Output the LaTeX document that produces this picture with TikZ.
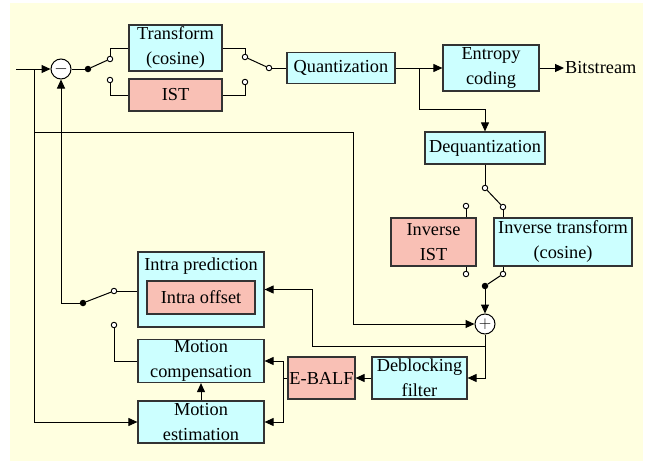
\documentclass[tikz,border=0pt]{standalone}
\usepackage{fontspec}
\setmainfont{Liberation Serif}
\usetikzlibrary{arrows.meta}
\definecolor{bgyel}{HTML}{FFFFE0}
\definecolor{cyanbox}{HTML}{CCFFFF}
\definecolor{pinkbox}{HTML}{F9C0B5}
\tikzset{
  blk/.style={draw=black!80,line width=1.2pt,fill=cyanbox,inner sep=0pt,align=center,font=\fontsize{18.3}{25}\selectfont},
  pblk/.style={blk,fill=pinkbox},
  port/.style={circle,draw,fill=white,line width=0.9pt,inner sep=0pt,minimum size=5.5pt},
  jdot/.style={circle,fill,inner sep=0pt,minimum size=6.5pt},
  sumnode/.style={circle,draw,fill=white,line width=1pt,inner sep=0pt,minimum size=20pt,font=\fontsize{17}{17}\selectfont},
  wire/.style={line width=1pt},
  arr/.style={wire,-{Triangle[length=9pt,width=8pt]}}
}
\begin{document}
\begin{tikzpicture}[x=1pt,y=-1pt]
\useasboundingbox (0,0) rectangle (649,461);
\fill[bgyel] (10,3) rectangle (643,461);
% blocks
\node[blk,minimum width=93pt,minimum height=46pt] (trans) at (175.5,48) {Transform\\(cosine)};
\node[pblk,minimum width=93pt,minimum height=32pt] (ist) at (175.5,95) {IST};
\node[blk,minimum width=108pt,minimum height=31pt] (quant) at (341,68) {Quantization};
\node[blk,minimum width=96pt,minimum height=46pt] (entropy) at (491,68) {Entropy\\coding};
\node[anchor=west,inner sep=1pt,font=\fontsize{18.3}{25}\selectfont] (bits) at (564,68) {Bitstream};
\node[blk,minimum width=120pt,minimum height=32pt] (dequant) at (485,148) {Dequantization};
\node[pblk,minimum width=85pt,minimum height=48pt] (invist) at (433.5,242) {Inverse\\IST};
\node[blk,minimum width=138pt,minimum height=48pt] (invtr) at (563,242) {Inverse transform\\(cosine)};
\node[blk,minimum width=126pt,minimum height=75pt] (intra) at (201,289.5) {};
\node[font=\fontsize{18.3}{25}\selectfont] (intratxt) at (201,266) {Intra prediction};
\node[pblk,minimum width=108pt,minimum height=33pt] (offset) at (201,297.5) {Intra offset};
\node[blk,minimum width=126pt,minimum height=43pt] (mc) at (201,361) {Motion\\compensation};
\node[blk,minimum width=126pt,minimum height=42pt] (me) at (201,422) {Motion\\estimation};
\node[pblk,minimum width=67pt,minimum height=42pt] (balf) at (321.5,378) {E-BALF};
\node[blk,minimum width=95pt,minimum height=42pt] (deblock) at (419.5,378) {Deblocking\\filter};
% adders
\node[sumnode] (minus) at (61,69) {$-$};
\node[sumnode] (plus) at (485,324) {$+$};
% switches
\node[jdot] (sw1) at (88,69) {};
\node[port] (tin) at (110,59) {};
\node[port] (iin) at (110,80) {};
\node[port] (tout) at (245,57) {};
\node[port] (iout) at (245,82) {};
\node[port] (qin) at (269,68) {};
\node[port] (dqout) at (485,188) {};
\node[port] (itin) at (503,207) {};
\node[port] (iiin) at (466,206) {};
\node[port] (iiout) at (466,274) {};
\node[port] (itout) at (503,274) {};
\node[jdot] (sw3) at (485,286) {};
\node[jdot] (sw2) at (83,303) {};
\node[port] (ipout) at (114,291) {};
\node[port] (mcout) at (114,325) {};
% junctions
\coordinate (in) at (16,69);
\coordinate (j1) at (34,69);
\coordinate (j2) at (34,132);
\coordinate (j3) at (353,132);
\coordinate (j4) at (419,68);
\coordinate (j5) at (419,109);
\coordinate (j6) at (485,346);
\coordinate (j7) at (312,346);
\coordinate (j8) at (283,378);
% forward path
\draw[arr] (in) -- (minus);
\draw[wire] (minus) -- (sw1);
\draw[wire] (sw1) -- (tin);
\draw[wire] (tin) |- (trans.west);
\draw[wire] (iin) |- (ist.west);
\draw[wire] (trans.east) -| (tout);
\draw[wire] (ist.east) -| (iout);
\draw[wire] (tout) -- (qin);
\draw[wire] (qin) -- (quant.west);
\draw[arr] (quant.east) -- (entropy.west);
\draw[arr] (entropy.east) -- (bits.west);
\draw[arr] (j4) -- (j5) -| (dequant.north);
% reconstruction
\draw[wire] (dequant) -- (dqout);
\draw[wire] (dqout) -- (itin);
\draw[wire] (itin) -- (itin |- invtr.north);
\draw[wire] (iiin) -- (iiin |- invist.north);
\draw[wire] (iiout) -- (iiout |- invist.south);
\draw[wire] (itout) -- (itout |- invtr.south);
\draw[wire] (sw3) -- (itout);
\draw[arr] (sw3) -- (plus);
\draw[arr] (j2) -- (j3) |- (plus);
\draw[wire] (plus) -- (j6);
\draw[arr] (j6) -- (j7) |- (intra.east);
\draw[arr] (j6) |- (deblock.east);
\draw[arr] (deblock) -- (balf);
\draw[wire] (balf) -- (j8);
\draw[arr] (j8) |- (mc.east);
\draw[arr] (j8) |- (me.east);
\draw[arr] (me) -- (mc);
% prediction
\draw[arr] (j1) |- (me.west);
\draw[wire] (ipout) -- (ipout -| intra.west);
\draw[wire] (mc.west) -| (mcout);
\draw[wire] (sw2) -- (ipout);
\draw[arr] (sw2) -| (minus);
\end{tikzpicture}
\end{document}
